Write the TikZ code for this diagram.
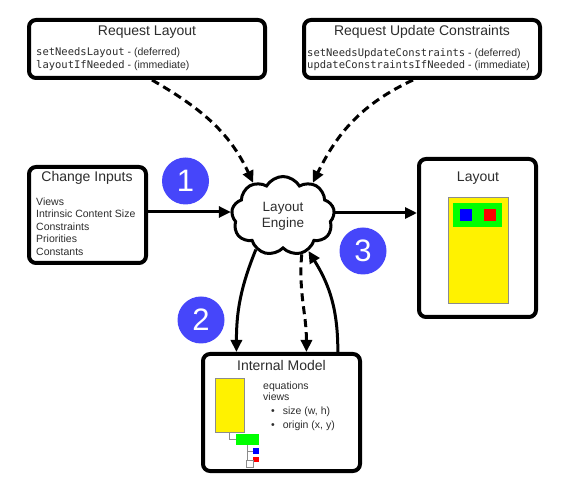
\documentclass[tikz,border=0pt]{standalone}
\usepackage{fontspec}
\setmainfont{Liberation Sans}
\setmonofont{DejaVu Sans Mono}
\usetikzlibrary{calc, shapes.symbols, arrows.meta}
\definecolor{numblue}{RGB}{70,70,250}
\definecolor{ink}{RGB}{45,45,45}
\tikzset{
 box/.style={draw, line width=4pt, rounded corners=7pt, fill=white, inner sep=0pt},
 ttl/.style={font=\fontsize{14}{16}\selectfont, text=ink, inner sep=0pt},
 txt/.style={font=\fontsize{10.5}{12.6}\selectfont, text=ink, align=left, inner sep=0pt},
 num/.style={circle, fill=numblue, text=white, minimum size=47pt, inner sep=0pt, font=\fontsize{31}{31}\selectfont},
 arr/.style={line width=3pt, -{Triangle[length=12pt,width=11pt]}},
 dasharr/.style={arr, dash pattern=on 8pt off 5pt},
 part/.style={draw=black!45, line width=0.6pt, inner sep=0pt},
}
\begin{document}
\begin{tikzpicture}[x=1pt, y=1pt]
 \useasboundingbox (0,0) rectangle (588,484);

 % requests
 \node[box, minimum width=236pt, minimum height=58pt] (rl) at (147,435) {};
 \node[ttl] (rlttl) at (147,452) {Request Layout};
 \node[txt, anchor=west] (rltxt) at (36,425)
  {\texttt{setNeedsLayout} - (deferred)\\\texttt{layoutIfNeeded} - (immediate)};

 \node[box, minimum width=236pt, minimum height=58pt] (ruc) at (422,435) {};
 \node[ttl] (ructtl) at (422,452) {Request Update Constraints};
 \node[txt, anchor=west] (ructxt) at (307,424.5)
  {\texttt{setNeedsUpdateConstraints} - (deferred)\\\texttt{updateConstraintsIfNeeded} - (immediate)};

 % inputs
 \node[box, minimum width=117pt, minimum height=96pt] (ci) at (87.5,269) {};
 \node[ttl] (cittl) at (87,306) {Change Inputs};
 \node[txt, anchor=west] (citxt) at (36,257.5)
  {Views\\Intrinsic Content Size\\Constraints\\Priorities\\Constants};

 % engine
 \node[cloud, draw, fill=white, line width=3pt, cloud puffs=9, cloud puff arc=120, aspect=1.3,
  minimum width=103pt, minimum height=79pt, align=center, text=ink,
  font=\fontsize{13.5}{16}\selectfont] (engine) at (283,268) {Layout\\Engine};

 % layout
 \node[box, minimum width=117pt, minimum height=158pt] (layout) at (477.5,246) {};
 \node[ttl] (layoutttl) at (478,306) {Layout};
 \node[part, fill=yellow, minimum width=60pt, minimum height=106pt] (lroot) at (478,234) {};
 \node[inner sep=0pt, fill=green, minimum width=49pt, minimum height=24pt] (lbar) at (477.5,269) {};
 \node[inner sep=0pt, fill=blue, minimum size=12pt] (lblue) at (466,269) {};
 \node[inner sep=0pt, fill=red, minimum size=12pt] (lred) at (490,269) {};

 % internal model
 \node[box, minimum width=157pt, minimum height=117pt] (im) at (281.5,71.5) {};
 \node[ttl] (imttl) at (281.5,119) {Internal Model};
 \node[part, fill=yellow, minimum width=29pt, minimum height=54pt] (mroot) at (229.5,79) {};
 \node[inner sep=0pt, fill=green, minimum width=23pt, minimum height=11pt] (mbar) at (247.5,44.5) {};
 \node[inner sep=0pt, fill=blue, minimum width=6pt, minimum height=6pt] (mblue) at (256,33) {};
 \node[inner sep=0pt, fill=red, minimum width=6pt, minimum height=5pt] (mred) at (256,24.5) {};
 \node[part, fill=white, minimum size=7pt] (mleaf) at (249.5,20.5) {};
 \draw[black!45, line width=0.6pt] (mroot.south) |- (mbar.west);
 \draw[black!45, line width=0.6pt] ([xshift=-0.5pt]mbar.south) |- (mblue.west);
 \draw[black!45, line width=0.6pt] ([xshift=-0.5pt]mbar.south) -- ([xshift=-0.5pt]mbar.south |- mleaf.north);
 \node[txt, font=\fontsize{10.5}{11}\selectfont, anchor=west] (imtxt) at (263,77.5)
  {equations\\views\\[3pt]\hspace*{8pt}\textbullet\hspace{8pt}size (w, h)\\[3pt]\hspace*{8pt}\textbullet\hspace{8pt}origin (x, y)};

 % connectors
 \draw[dasharr] ([xshift=5pt]rl.south) to[out=-30, in=115] (engine.132);
 \draw[dasharr] ([xshift=-9pt]ruc.south) to[out=-155, in=64] (engine.48);
 \draw[arr] ([yshift=3pt]ci.east) -- ([yshift=3pt]ci.east -| engine.west);
 \draw[arr] ([yshift=3pt]engine.east) -- ([yshift=3pt]engine.east -| layout.west);
 \draw[arr] (engine.231) to[out=-112, in=90] ($(im.north west)!0.22!(im.north east)$);
 \draw[dasharr] (engine.296) to[out=-95, in=90] ($(im.north west)!0.655!(im.north east)$);
 \draw[arr] ($(im.north west)!0.85!(im.north east)$) to[out=90, in=-58] (engine.306);

 % steps
 \node[num] (one) at (185.5,303) {1};
 \node[num] (two) at (201,164) {2};
 \node[num] (three) at (363,233) {3};
\end{tikzpicture}
\end{document}
